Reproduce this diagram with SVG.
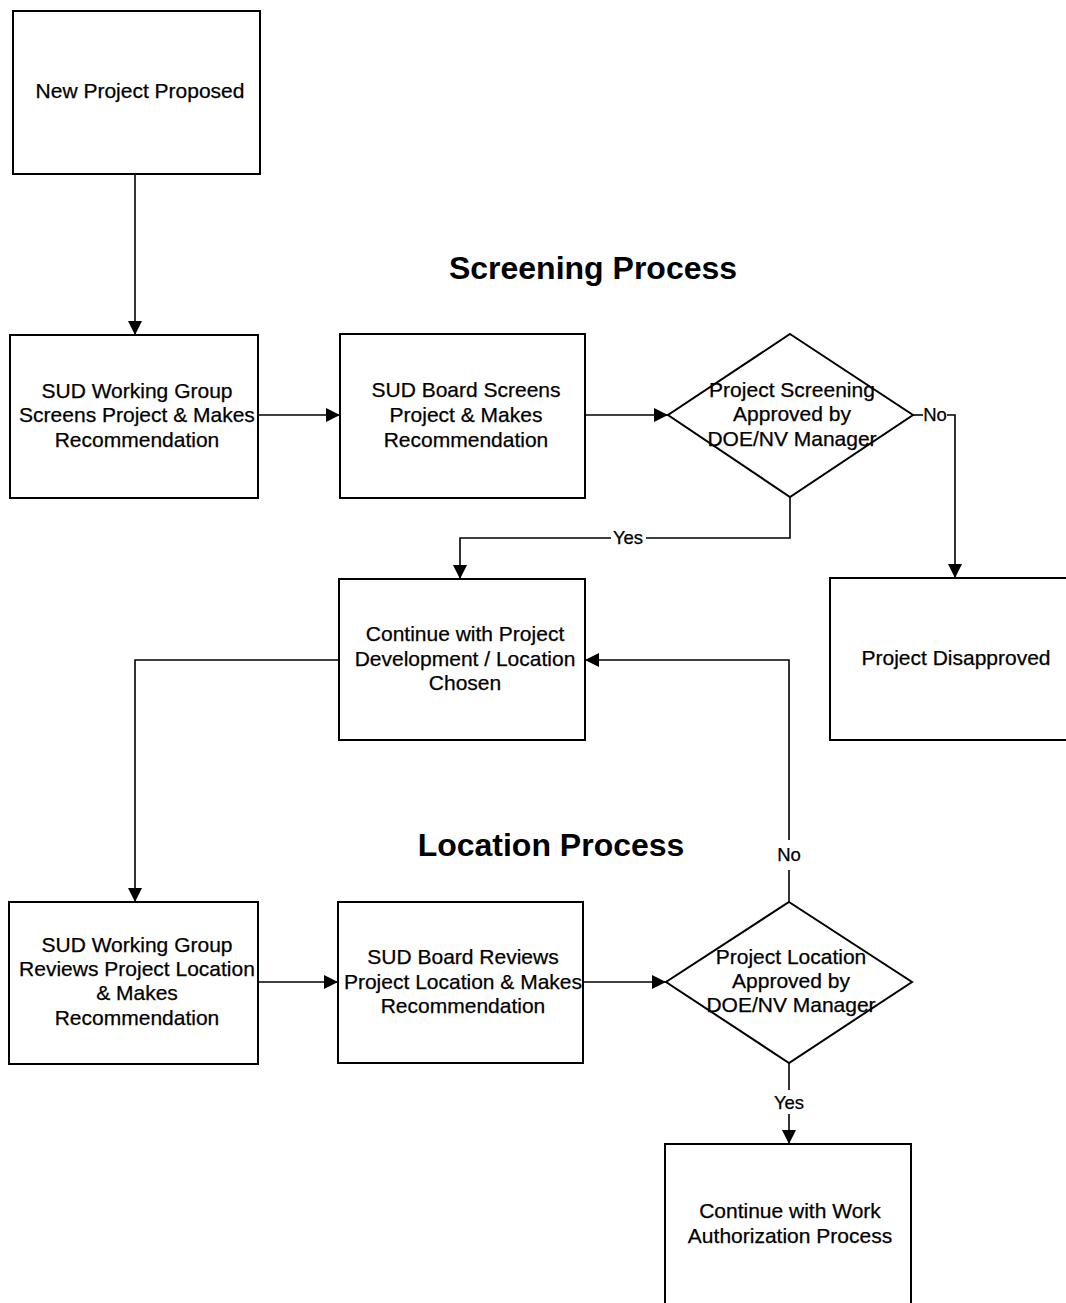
<svg xmlns="http://www.w3.org/2000/svg" width="1066" height="1303" viewBox="0 0 1066 1303">
<style>
.box{fill:#fff;stroke:#000;stroke-width:2}
.t{font-family:"Liberation Sans",Arial,sans-serif;font-size:21px;fill:#000;text-anchor:middle;stroke:#000;stroke-width:0.25}
.l{font-family:"Liberation Sans",Arial,sans-serif;font-size:18.5px;fill:#000;text-anchor:middle;stroke:#000;stroke-width:0.25}
.h{font-family:"Liberation Sans",Arial,sans-serif;font-size:32px;font-weight:bold;fill:#000;text-anchor:middle}
.c{fill:none;stroke:#000;stroke-width:1.6}
</style>
<defs>
<marker id="ahL" viewBox="0 0 10 10" refX="10" refY="5" markerWidth="14" markerHeight="14" markerUnits="userSpaceOnUse" orient="auto">
<path d="M0,0 L10,5 L0,10 z" fill="#000"/>
</marker>
</defs>
<rect width="1066" height="1303" fill="#fff"/>
<text class="h" x="593" y="279">Screening Process</text>
<text class="h" x="551" y="856">Location Process</text>
<g id="connectors">
<path class="c" d="M135,174 V335" marker-end="url(#ahL)"/>
<path class="c" d="M258,415 H340" marker-end="url(#ahL)"/>
<path class="c" d="M585,415 H668" marker-end="url(#ahL)"/>
<path class="c" d="M913,415 H923"/>
<path class="c" d="M947,415 H955 V578" marker-end="url(#ahL)"/>
<path class="c" d="M790,497 V538 H646"/>
<path class="c" d="M611,538 H460 V579" marker-end="url(#ahL)"/>
<path class="c" d="M339,660 H135 V902" marker-end="url(#ahL)"/>
<path class="c" d="M258,982 H338" marker-end="url(#ahL)"/>
<path class="c" d="M583,982 H666" marker-end="url(#ahL)"/>
<path class="c" d="M789,902 V870"/>
<path class="c" d="M789,840 V660 H585" marker-end="url(#ahL)"/>
<path class="c" d="M789,1063 V1090"/>
<path class="c" d="M789,1114 V1144" marker-end="url(#ahL)"/>
<text class="l" x="935" y="421">No</text>
<text class="l" x="628" y="544">Yes</text>
<text class="l" x="789" y="861">No</text>
<text class="l" x="789" y="1109">Yes</text>
</g>
<g id="n1"><rect class="box" x="13" y="11" width="247" height="163"/>
<text class="t" x="140" y="98">New Project Proposed</text></g>
<g id="n2"><rect class="box" x="10" y="335" width="248" height="163"/>
<text class="t" x="137" y="398">SUD Working Group</text>
<text class="t" x="137" y="422">Screens Project &amp; Makes</text>
<text class="t" x="137" y="447">Recommendation</text></g>
<g id="n3"><rect class="box" x="340" y="334" width="245" height="164"/>
<text class="t" x="466" y="397">SUD Board Screens</text>
<text class="t" x="466" y="422">Project &amp; Makes</text>
<text class="t" x="466" y="447">Recommendation</text></g>
<g id="n4"><polygon class="box" points="790,334 913,415 790,497 668,415"/>
<text class="t" x="792" y="397">Project Screening</text>
<text class="t" x="792" y="421">Approved by</text>
<text class="t" x="792" y="446">DOE/NV Manager</text></g>
<g id="n5"><rect class="box" x="830" y="578" width="245" height="162"/>
<text class="t" x="956" y="665">Project Disapproved</text></g>
<g id="n6"><rect class="box" x="339" y="579" width="246" height="161"/>
<text class="t" x="465" y="641">Continue with Project</text>
<text class="t" x="465" y="666">Development / Location</text>
<text class="t" x="465" y="690">Chosen</text></g>
<g id="n7"><rect class="box" x="9" y="902" width="249" height="162"/>
<text class="t" x="137" y="952">SUD Working Group</text>
<text class="t" x="137" y="976">Reviews Project Location</text>
<text class="t" x="137" y="1000">&amp; Makes</text>
<text class="t" x="137" y="1025">Recommendation</text></g>
<g id="n8"><rect class="box" x="338" y="902" width="245" height="161"/>
<text class="t" x="463" y="964">SUD Board Reviews</text>
<text class="t" x="463" y="989">Project Location &amp; Makes</text>
<text class="t" x="463" y="1013">Recommendation</text></g>
<g id="n9"><polygon class="box" points="789,902 912,982 789,1063 666,982"/>
<text class="t" x="791" y="964">Project Location</text>
<text class="t" x="791" y="988">Approved by</text>
<text class="t" x="791" y="1012">DOE/NV Manager</text></g>
<g id="n10"><rect class="box" x="665" y="1144" width="246" height="170"/>
<text class="t" x="790" y="1218">Continue with Work</text>
<text class="t" x="790" y="1243">Authorization Process</text></g>
</svg>
